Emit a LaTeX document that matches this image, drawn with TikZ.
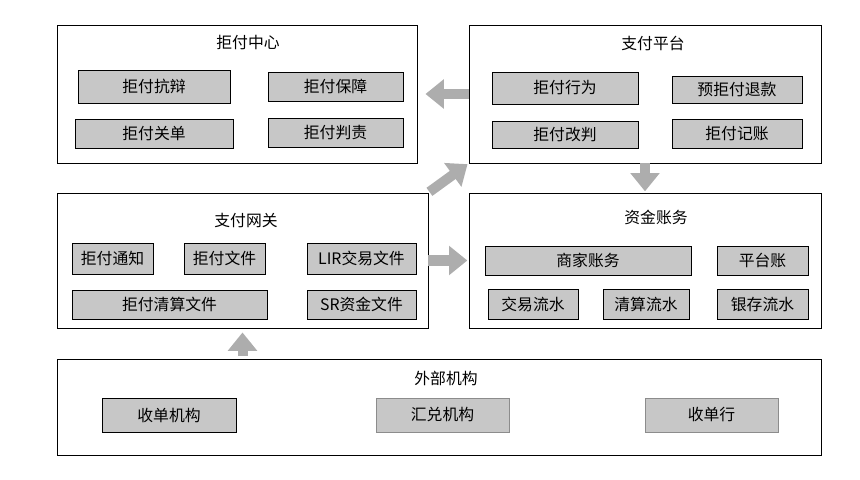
\documentclass[tikz,border=0pt]{standalone}
\usepackage{fontspec}
\setmainfont{Noto Sans CJK SC}
\usetikzlibrary{arrows.meta}
\begin{document}
\begin{tikzpicture}[x=0.03cm,y=-0.03cm,
        font=\fontsize{13.5}{16}\selectfont,
        box/.style={draw, line width=0.8pt, inner sep=0pt},
        item/.style={draw, fill=black!22, line width=0.6pt, inner sep=0pt},
        faint/.style={draw=black!45},
        bigarrow/.style={draw=black!32, line width=0.3cm, -{Triangle[length=0.55cm,width=0.85cm]}}]
            \useasboundingbox (0,0) rectangle (860,480);

            \node[box, minimum width=10.8cm, minimum height=4.14cm] (center) at (237,94) {};
            \node (centertitle) at (248,43) {拒付中心};
            \node[item, minimum width=4.56cm, minimum height=0.99cm] (C1) at (154,86.5) {拒付抗辩};
            \node[item, minimum width=4.05cm, minimum height=0.87cm] (C2) at (335.5,86.5) {拒付保障};
            \node[item, minimum width=4.74cm, minimum height=0.87cm] (C3) at (154,133.5) {拒付关单};
            \node[item, minimum width=4.05cm, minimum height=0.87cm] (C4) at (335.5,132.5) {拒付判责};

            \node[box, minimum width=10.56cm, minimum height=4.14cm] (platform) at (645,94) {};
            \node (platformtitle) at (653,43) {支付平台};
            \node[item, minimum width=4.38cm, minimum height=0.96cm] (P1) at (565,88) {拒付行为};
            \node[item, minimum width=3.9cm, minimum height=0.81cm] (P2) at (737,89.5) {预拒付退款};
            \node[item, minimum width=4.38cm, minimum height=0.81cm] (P3) at (565,134.5) {拒付改判};
            \node[item, minimum width=3.9cm, minimum height=0.87cm] (P4) at (737,133.5) {拒付记账};

            \node[box, minimum width=11.13cm, minimum height=4.05cm] (gateway) at (242.5,260.5) {};
            \node (gatewaytitle) at (246,221) {支付网关};
            \node[item, minimum width=2.43cm, minimum height=0.93cm] (G1) at (112.5,258.5) {拒付通知};
            \node[item, minimum width=2.43cm, minimum height=0.93cm] (G2) at (224.5,258.5) {拒付文件};
            \node[item, minimum width=3.27cm, minimum height=0.93cm] (G3) at (361.5,258.5) {LIR交易文件};
            \node[item, minimum width=5.85cm, minimum height=0.87cm] (G4) at (169.5,304.5) {拒付清算文件};
            \node[item, minimum width=3.27cm, minimum height=0.87cm] (G5) at (361.5,304.5) {SR资金文件};

            \node[box, minimum width=10.56cm, minimum height=4.05cm] (fund) at (645,260.5) {};
            \node (fundtitle) at (656,217) {资金账务};
            \node[item, minimum width=6.18cm, minimum height=0.87cm] (F1) at (588,260.5) {商家账务};
            \node[item, minimum width=2.73cm, minimum height=0.87cm] (F2) at (762.5,260.5) {平台账};
            \node[item, minimum width=2.7cm, minimum height=0.9cm] (F3) at (533,304) {交易流水};
            \node[item, minimum width=2.58cm, minimum height=0.9cm] (F4) at (646,304) {清算流水};
            \node[item, minimum width=2.73cm, minimum height=0.9cm] (F5) at (762.5,304) {银存流水};

            \node[box, minimum width=22.92cm, minimum height=2.88cm] (ext) at (439,407) {};
            \node (exttitle) at (446,378) {外部机构};
            \node[item, minimum width=4.02cm, minimum height=1.02cm] (E1) at (169,415) {收单机构};
            \node[item, faint, minimum width=3.99cm, minimum height=1.02cm] (E2) at (442.5,415) {汇兑机构};
            \node[item, faint, minimum width=3.99cm, minimum height=1.02cm] (E3) at (711.5,415) {收单行};

            \draw[bigarrow, shorten >=0.24cm] (platform.west) -- (center.east);
            \draw[bigarrow, shorten >=1pt] (platform.south) -- (platform.south |- fund.north);
            \draw[bigarrow, shorten >=1pt] (gateway.east) -- (fund.west);
            \draw[bigarrow, shorten <=1pt, shorten >=1pt] (gateway.north east) -- (platform.south west);
            \draw[bigarrow, shorten <=2pt, shorten >=0.12cm] (ext.north -| gateway.south) -- (gateway.south);

        \end{tikzpicture}
\end{document}
